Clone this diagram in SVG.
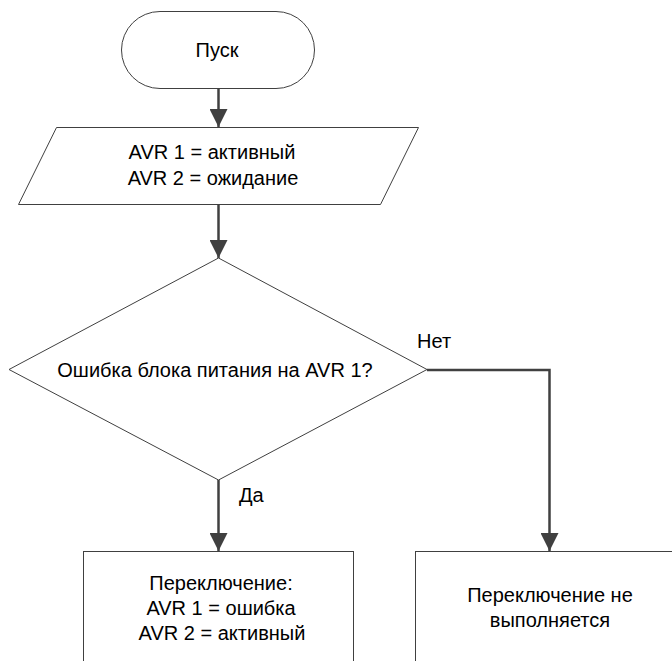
<svg xmlns="http://www.w3.org/2000/svg" width="672" height="661" viewBox="0 0 672 661">
<defs>
<style>
.shape{fill:#ffffff;stroke:#404040;stroke-width:1}
.conn{fill:none;stroke:#404040;stroke-width:2.5}
.t{font-family:"Liberation Sans",Arial,sans-serif;font-size:20px;fill:#000000;text-anchor:middle}
.lbl{font-family:"Liberation Sans",Arial,sans-serif;font-size:20px;fill:#000000}
</style>
<marker id="arr" markerUnits="userSpaceOnUse" markerWidth="18" markerHeight="18" refX="18" refY="9" orient="auto" viewBox="0 0 18 18">
<path d="M0,0 L18,9 L0,18 Z" fill="#404040"/>
</marker>
</defs>
<rect width="672" height="661" fill="#ffffff"/>
<g id="start">
<rect class="shape" x="121.5" y="11.5" width="193" height="77" rx="38.5" ry="38.5"/>
<text class="t" x="217" y="57">Пуск</text>
</g>
<g id="init">
<polygon class="shape" points="56.5,127.5 418.5,127.5 380.5,204.5 18.5,204.5"/>
<text class="t" x="212" y="159">AVR 1 = активный</text>
<text class="t" x="213" y="185">AVR 2 = ожидание</text>
</g>
<g id="decision">
<polygon class="shape" points="218.5,258 427,369.5 218.5,480 9,369.5"/>
<text class="t" x="215" y="377">Ошибка блока питания на AVR 1?</text>
</g>
<g id="switch">
<rect class="shape" x="83.5" y="551.5" width="270" height="130"/>
<text class="t" x="221" y="590">Переключение:</text>
<text class="t" x="221" y="615">AVR 1 = ошибка</text>
<text class="t" x="222" y="640">AVR 2 = активный</text>
</g>
<g id="noswitch">
<rect class="shape" x="415.5" y="551.5" width="270" height="130"/>
<text class="t" x="550" y="602">Переключение не</text>
<text class="t" x="550" y="627">выполняется</text>
</g>
<g id="connectors">
<line class="conn" x1="218.5" y1="89" x2="218.5" y2="127" marker-end="url(#arr)"/>
<line class="conn" x1="218.5" y1="205" x2="218.5" y2="258" marker-end="url(#arr)"/>
<line class="conn" x1="218.5" y1="480" x2="218.5" y2="551" marker-end="url(#arr)"/>
<polyline class="conn" points="427,370 549.5,370 549.5,551" marker-end="url(#arr)"/>
<text class="lbl" x="239" y="502">Да</text>
<text class="lbl" x="417" y="348">Нет</text>
</g>
</svg>
